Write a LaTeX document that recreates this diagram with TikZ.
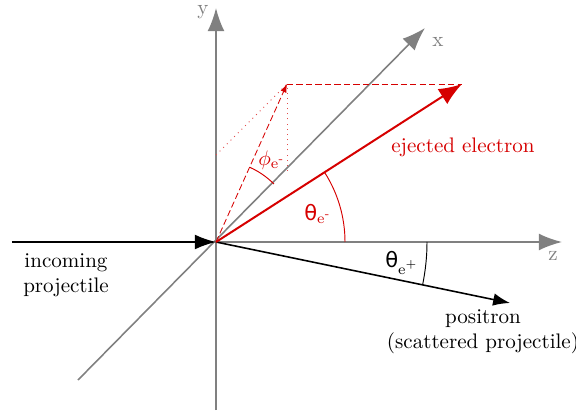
\documentclass[tikz,border=0pt]{standalone}
\usepackage{fontspec}
\newfontfamily\symfont{DejaVu Sans}
\usetikzlibrary{arrows.meta}
\definecolor{axisgray}{RGB}{128,128,128}
\definecolor{ered}{RGB}{214,0,0}
\tikzset{
    axis/.style={draw=axisgray, line width=0.75pt,
                 -{Latex[length=11pt, width=8pt]}},
    axislabel/.style={text=axisgray},
    particle/.style={line width=0.75pt, -{Latex[length=8pt, width=6pt]}},
    incomer/.style={particle, -{Latex[length=10pt, width=7pt]}},
    electron/.style={particle, draw=ered, line width=0.95pt,
                     -{Latex[length=11pt, width=8.5pt]}},
    helper/.style={draw=ered, line width=0.4pt},
    faint/.style={draw=ered!70, line width=0.45pt, dotted},
    anglearc/.style={line width=0.45pt},
    note/.style={align=center},
}
\newcommand{\thetalabel}[1]{{\symfont θ}\textsubscript{e\textsuperscript{#1}}}

\begin{document}
\begin{tikzpicture}[x=0.475pt, y=0.475pt]
    \path[use as bounding box] (-216,-170) rectangle (360,242);

    \coordinate (O) at (0,0);
    \coordinate (ybot) at (0,-168);
    \coordinate (ytop) at (0,234);
    \coordinate (xbot) at (-138,-138);
    \coordinate (xtop) at (209,214);
    \coordinate (ztop) at (346,0);
    \coordinate (incoming) at (-204,0);
    \coordinate (electron) at (246,158);
    \coordinate (proj) at (71,158);
    \coordinate (projx) at (71,71);
    \coordinate (projy) at (0,87);
    \coordinate (positron) at (294,-61);

    \draw[axis] (ybot) -- (ytop);
    \draw[axis] (xbot) -- (xtop);
    \draw[axis] (O) -- (ztop);
    \node[axislabel] (ylab) at (-13,230) {y};
    \node[axislabel] (xlab) at (222,200) {x};
    \node[axislabel] (zlab) at (337,-14) {z};

    \draw[faint] (projy) -- (proj);
    \draw[faint] (projx) -- (proj);
    \draw[helper, dash pattern=on 3pt off 1.5pt] (proj) -- (electron);
    \draw[helper, dash pattern=on 3pt off 1.5pt,
          -{Latex[length=4pt, width=3pt]}] (O) -- (proj);

    \draw[incomer] (incoming) -- (O);
    \draw[particle] (O) -- (positron);
    \draw[electron] (O) -- (electron);

    \draw[anglearc, draw=ered] (129,0) arc[start angle=0, end angle=32.7, radius=129];
    \draw[anglearc, draw=ered] (45:82) arc[start angle=45, end angle=65.8, radius=82];
    \draw[anglearc] (211,0) arc[start angle=0, end angle=-11.7, radius=211];

    \node[text=ered] (thetaem) at (102,28) {\thetalabel{-}};
    \node[text=ered] (phiem) at (56,82) {$\phi$\textsubscript{e\textsuperscript{-}}};
    \node (thetaep) at (186,-21) {\thetalabel{+}};

    \node[note, text=ered] (elab) at (247,95) {ejected electron};
    \node[note] (inlab) at (-150,-33) {incoming\\projectile};
    \node[note, inner sep=0pt] (poslab) at (267,-90) {positron\\(scattered projectile)};

\end{tikzpicture}
\end{document}
